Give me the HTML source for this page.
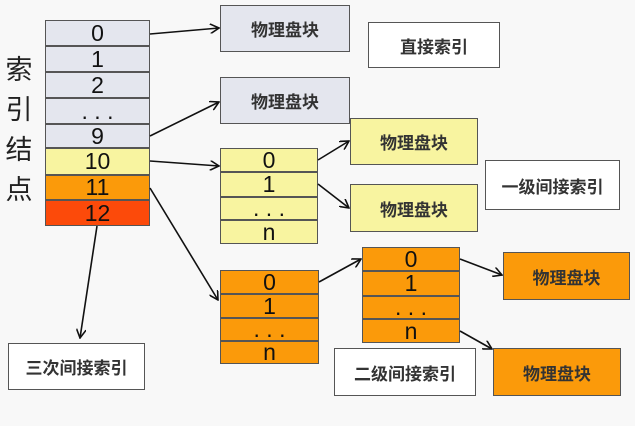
<!DOCTYPE html><html><head><meta charset="utf-8"><style>
body{margin:0;width:635px;height:426px;background:#f8f8f8;position:relative;overflow:hidden;font-family:"Liberation Sans","Noto Sans CJK SC",sans-serif}
.b{position:absolute;box-sizing:border-box;border:1.5px solid #555;display:flex;align-items:center;justify-content:center;font-size:17px;color:#333;font-weight:600}
.r{position:absolute;box-sizing:border-box;border:1px solid #555;display:flex;align-items:center;justify-content:center;font-size:23px;color:#111;line-height:1}
.g{background:#e4e6ee}.y{background:#f8f4a0}.o{background:#fb9a0a}.w{background:#fff}
</style></head><body>
<div style="position:absolute;left:4px;top:50px;width:30px;font-size:27px;line-height:40px;text-align:center;color:#222">索<br>引<br>结<br>点</div>
<div class="r g" style="left:45px;top:20px;width:105px;height:26px">0</div>
<div class="r g" style="left:45px;top:46px;width:105px;height:26px">1</div>
<div class="r g" style="left:45px;top:72px;width:105px;height:26px">2</div>
<div class="r g" style="left:45px;top:98px;width:105px;height:26px">. . .</div>
<div class="r g" style="left:45px;top:124px;width:105px;height:24px">9</div>
<div class="r" style="left:45px;top:148px;width:105px;height:27px;background:#f8f4a0">10</div>
<div class="r" style="left:45px;top:175px;width:105px;height:25px;background:#fb9a0a">11</div>
<div class="r" style="left:45px;top:200px;width:105px;height:26px;background:#fc4a0a">12</div>

<div class="b g" style="left:220px;top:5px;width:130px;height:47px">物理盘块</div>
<div class="b g" style="left:220px;top:77px;width:130px;height:47px">物理盘块</div>
<div class="b w" style="left:368px;top:22px;width:132px;height:46px">直接索引</div>

<div class="r y" style="left:220px;top:148px;width:98px;height:24px">0</div>
<div class="r y" style="left:220px;top:172px;width:98px;height:25px">1</div>
<div class="r y" style="left:220px;top:197px;width:98px;height:23px">. . .</div>
<div class="r y" style="left:220px;top:220px;width:98px;height:24px">n</div>
<div class="b y" style="left:350px;top:118px;width:128px;height:47px">物理盘块</div>
<div class="b y" style="left:350px;top:184px;width:128px;height:48px">物理盘块</div>
<div class="b w" style="left:485px;top:160px;width:135px;height:50px">一级间接索引</div>

<div class="r o" style="left:220px;top:270px;width:99px;height:24px">0</div>
<div class="r o" style="left:220px;top:294px;width:99px;height:24px">1</div>
<div class="r o" style="left:220px;top:318px;width:99px;height:23px">. . .</div>
<div class="r o" style="left:220px;top:341px;width:99px;height:23px">n</div>
<div class="r o" style="left:362px;top:247px;width:98px;height:24px">0</div>
<div class="r o" style="left:362px;top:271px;width:98px;height:25px">1</div>
<div class="r o" style="left:362px;top:296px;width:98px;height:23px">. . .</div>
<div class="r o" style="left:362px;top:319px;width:98px;height:24px">n</div>
<div class="b o" style="left:503px;top:252px;width:127px;height:48px">物理盘块</div>
<div class="b o" style="left:493px;top:348px;width:128px;height:48px">物理盘块</div>
<div class="b w" style="left:334px;top:348px;width:142px;height:48px">二级间接索引</div>
<div class="b w" style="left:8px;top:343px;width:137px;height:47px">三次间接索引</div>

<svg width="635" height="426" style="position:absolute;left:0;top:0">
<defs><marker id="a" markerWidth="10" markerHeight="10" refX="9" refY="5" orient="auto" markerUnits="userSpaceOnUse"><path d="M0,0L9,5L0,10" fill="none" stroke="#111" stroke-width="1.6"/></marker></defs>
<g stroke="#111" stroke-width="1.6" fill="none" marker-end="url(#a)">
<line x1="150" y1="34" x2="219" y2="28"/>
<line x1="150" y1="136" x2="219" y2="102"/>
<line x1="150" y1="161" x2="219" y2="166"/>
<line x1="150" y1="188" x2="218" y2="300"/>
<line x1="97" y1="226" x2="80" y2="338"/>
<line x1="318" y1="160" x2="349" y2="141"/>
<line x1="318" y1="184" x2="349" y2="208"/>
<line x1="319" y1="282" x2="361" y2="259"/>
<line x1="460" y1="259" x2="502" y2="275"/>
<line x1="460" y1="331" x2="492" y2="349"/>
</g></svg>
</body></html>
